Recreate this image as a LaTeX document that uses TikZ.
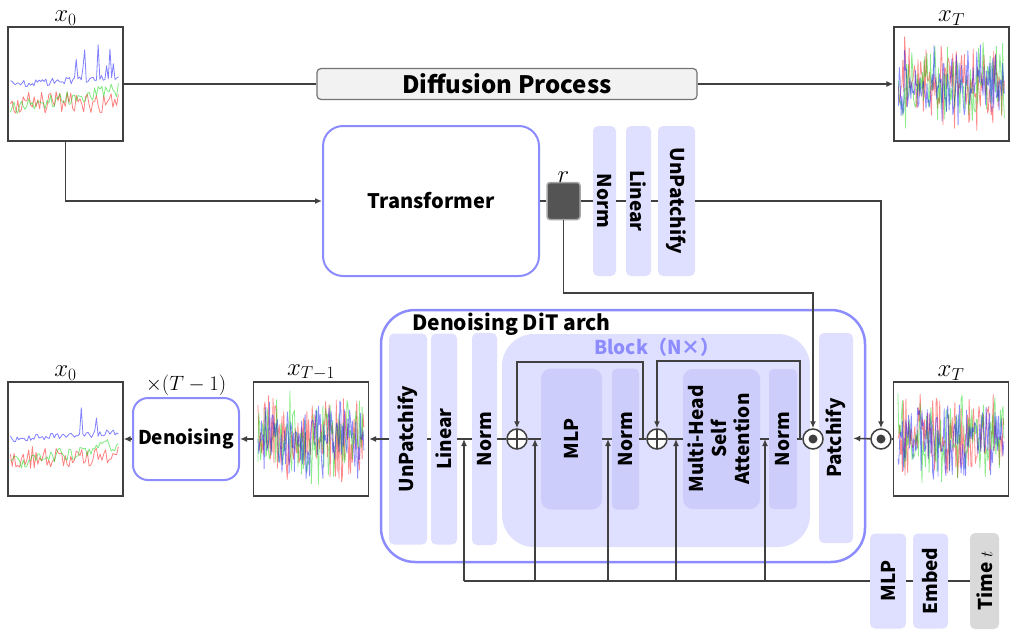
\documentclass[tikz,border=0pt]{standalone}
\usepackage{fontspec}
\setmainfont{Noto Sans CJK JP}
\usepackage{tikz}
\usetikzlibrary{positioning,arrows.meta}

\definecolor{frameblue}{RGB}{140,140,255}
\definecolor{lav}{RGB}{223,223,255}
\definecolor{lavdeep}{RGB}{205,205,252}
\definecolor{wiregray}{RGB}{64,64,64}
\definecolor{sigred}{RGB}{255,0,0}
\definecolor{siggreen}{RGB}{0,210,0}
\definecolor{sigblue}{RGB}{0,0,255}

% clean and noisy signals inside a plot box
\newcommand{\drawclean}[1]{%
  \begin{scope}
    \clip (#1.north west) rectangle (#1.south east);
    \begin{scope}[shift={(#1.north west)}, line width=0.8pt, opacity=0.5, line join=round]
      \draw[sigred] plot[domain=3:111, samples=60] (\x, {76+11*rand});
      \draw[siggreen] plot[domain=3:111, samples=60] (\x, {82-0.17*\x+7*rand});
      \draw[sigblue] plot[domain=3:111, samples=65] (\x, {58-0.06*\x+3.5*rand-(\x>68)*120*max(0,rand-0.72)});
    \end{scope}
  \end{scope}}
\newcommand{\drawnoise}[1]{%
  \begin{scope}
    \clip (#1.north west) rectangle (#1.south east);
    \begin{scope}[shift={(#1.north west)}, line width=0.8pt, opacity=0.45, line join=round]
      \draw[sigred] plot[domain=5:111, samples=120] (\x, {57+25*(rand+rand)});
      \draw[siggreen] plot[domain=5:111, samples=120] (\x, {57+25*(rand+rand)});
      \draw[sigblue] plot[domain=5:111, samples=120] (\x, {57+22*(rand+rand)});
    \end{scope}
  \end{scope}}

\begin{document}
\begin{tikzpicture}[x=1pt, y=-1pt, >={Latex[length=7pt,width=6pt]},
  wire/.style = {draw=wiregray, line width=1.6pt},
  tsbox/.style = {draw=black!75, line width=1.2pt, inner sep=0pt, minimum width=115pt, minimum height=114pt},
  stage/.style = {draw=frameblue, line width=2pt, fill=white, rounded corners=20pt, font=\bfseries\fontsize{20}{24}\selectfont},
  bar/.style = {fill=lav, rounded corners=5pt, inner sep=0pt, font=\bfseries\fontsize{19}{23}\selectfont},
  deepbar/.style = {bar, fill=lavdeep},
  opnode/.style = {circle, draw=wiregray, line width=1.5pt, fill=white, minimum size=20pt, inner sep=0pt},
  addop/.style = {opnode, path picture={\draw[wiregray, line width=1.3pt] (path picture bounding box.north) -- (path picture bounding box.south) (path picture bounding box.west) -- (path picture bounding box.east);}},
  mulop/.style = {opnode, path picture={\fill[wiregray] (path picture bounding box.center) circle (4.5pt);}},
  mathlbl/.style = {font=\fontsize{27}{30}\selectfont, inner sep=1pt}]
  \useasboundingbox (0,0) rectangle (1018,632);

  % top row: diffusion
  \node[tsbox] (x0top) at (65.5,84) {};
  \node[mathlbl] (x0toplbl) [above=0pt of x0top] {$x_0$};
  \node[draw=black!55, fill=black!5, line width=1.2pt, rounded corners=4pt, inner sep=0pt, minimum width=380pt, minimum height=31pt, font=\bfseries\fontsize{24}{28}\selectfont] (diffusion) at (507,84) {Diffusion Process};
  \node[tsbox] (xTtop) at (951.5,84) {};
  \node[mathlbl] (xTtoplbl) [above=0pt of xTtop] {$x_T$};

  % transformer and head
  \node[stage, minimum width=216pt, minimum height=150pt] (transformer) at (431,201) {Transformer};
  \node[fill=black!67, draw=black!35, line width=1.5pt, rounded corners=3pt, minimum width=33pt, minimum height=37pt, inner sep=0pt] (rsq) at (563.5,201) {};
  \node[mathlbl] (rlbl) [above=-2pt of rsq] {$r$};
  \node[bar, minimum width=23pt, minimum height=150pt] (normTop) at (604.5,201) {\rotatebox{-90}{Norm}};
  \node[bar, minimum width=25pt, minimum height=150pt] (linTop) at (638.5,201) {\rotatebox{-90}{Linear}};
  \node[bar, minimum width=37pt, minimum height=150pt] (unpTop) at (676.5,201) {\rotatebox{-90}{UnPatchify}};
  \coordinate (rbend) at (563.5,293);

  % denoising DiT
  \node[draw=frameblue, line width=2.5pt, rounded corners=34pt, minimum width=484pt, minimum height=252pt] (ditarch) at (623,436) {};
  \node[anchor=west, inner sep=0pt, font=\bfseries\fontsize{21}{25}\selectfont] (ditlbl) at (412,324) {Denoising DiT arch};
  \node[fill=lav, rounded corners=32pt, minimum width=308pt, minimum height=213pt] (blockN) at (656,440.5) {};
  \node[text=frameblue, font=\bfseries\fontsize{19}{23}\selectfont] (blocklbl) at (657,347) {Block（N×）};
  \node[bar, minimum width=38pt, minimum height=211pt] (unpDit) at (408,439) {\rotatebox{90}{UnPatchify}};
  \node[bar, minimum width=26pt, minimum height=211pt] (linDit) at (444,439) {\rotatebox{90}{Linear}};
  \node[bar, minimum width=25pt, minimum height=212pt] (normDit) at (484.5,439) {\rotatebox{90}{Norm}};
  \node[deepbar, rounded corners=10pt, minimum width=61pt, minimum height=141pt] (mlpDit) at (571.5,439) {\rotatebox{90}{MLP}};
  \node[deepbar, minimum width=27pt, minimum height=141pt] (normB1) at (625.5,439) {\rotatebox{90}{Norm}};
  \node[deepbar, rounded corners=10pt, minimum width=77pt, minimum height=140pt] (mhsa) at (721.5,439) {\rotatebox{90}{\begin{tabular}{@{}c@{}}Multi-Head\\Self\\Attention\end{tabular}}};
  \node[deepbar, minimum width=28pt, minimum height=140pt] (normB2) at (783,439) {\rotatebox{90}{Norm}};
  \node[bar, minimum width=34pt, minimum height=210pt] (patchify) at (836,438) {\rotatebox{90}{Patchify}};
  \node[addop] (oplusA) at (517,439) {};
  \node[addop] (oplusB) at (657,439) {};
  \node[mulop] (odotA) at (813,439) {};
  \node[mulop] (odotB) at (881,439) {};
  \coordinate (resA) at (643,439);
  \coordinate (resAtop) at (643,362);
  \coordinate (resB) at (800,439);
  \coordinate (resBtop) at (800,361);

  % noisy input and outputs
  \node[tsbox] (xTbot) at (951,439) {};
  \node[mathlbl] (xTbotlbl) [above=0pt of xTbot] {$x_T$};
  \node[tsbox] (xTm1) at (311,439) {};
  \node[mathlbl] (xTm1lbl) [above=0pt of xTm1] {$x_{T-1}$};
  \node[stage, rounded corners=15pt, minimum width=106pt, minimum height=82pt, font=\bfseries\fontsize{19}{23}\selectfont] (denoise) at (186,439) {Denoising};
  \node[font=\fontsize{20}{24}\selectfont, inner sep=1pt] (repeatlbl) [above=0pt of denoise] {$\times(T-1)$};
  \node[tsbox] (x0bot) at (65.5,439) {};
  \node[mathlbl] (x0botlbl) [above=0pt of x0bot] {$x_0$};

  % time embedding
  \node[bar, minimum width=36pt, minimum height=95pt] (mlpT) at (888,581) {\rotatebox{90}{MLP}};
  \node[bar, minimum width=35pt, minimum height=95pt] (embed) at (930.5,581) {\rotatebox{90}{Embed}};
  \node[bar, fill=black!15, minimum width=29pt, minimum height=96pt] (timet) at (984.5,581) {\rotatebox{90}{Time $t$}};
  \coordinate (tap1) at (464,581);
  \coordinate (tap2) at (535,581);
  \coordinate (tap3) at (608,581);
  \coordinate (tap4) at (676,581);
  \coordinate (tap5) at (765,581);

  \drawclean{x0top}
  \drawnoise{xTtop}
  \drawnoise{xTbot}
  \drawnoise{xTm1}
  \drawclean{x0bot}

  \draw[wire] (x0top) -- (diffusion);
  \draw[wire,->] (diffusion) -- (xTtop);
  \draw[wire,->] (x0top) |- (transformer);
  \draw[wire] (transformer) -- (rsq);
  \draw[wire] (rsq) -- (normTop);
  \draw[wire] (normTop) -- (linTop);
  \draw[wire] (linTop) -- (unpTop);
  \draw[wire,->] (unpTop) -| (odotB);
  \draw[wire,->] (rsq) -- (rbend) -| (odotA);

  \draw[wire] (xTbot) -- (odotB);
  \draw[wire,->] (odotB) -- (patchify);
  \draw[wire] (odotA) -- (normB2);
  \draw[wire] (normB2) -- (mhsa);
  \draw[wire] (mhsa) -- (oplusB);
  \draw[wire] (oplusB) -- (normB1);
  \draw[wire] (normB1) -- (mlpDit);
  \draw[wire] (mlpDit) -- (oplusA);
  \draw[wire] (oplusA) -- (normDit);
  \draw[wire] (normDit) -- (linDit);
  \draw[wire] (linDit) -- (unpDit);
  \draw[wire,->] (unpDit) -- (xTm1);
  \draw[wire,->] (resB) -- (resBtop) -| (oplusB);
  \draw[wire,->] (resA) -- (resAtop) -| (oplusA);

  \draw[wire,->] (xTm1) -- (denoise);
  \draw[wire,->] (denoise) -- (x0bot);

  \draw[wire] (timet) -- (embed);
  \draw[wire] (embed) -- (mlpT);
  \draw[wire] (mlpT) -- (tap1);
  \draw[wire,->] (tap1) -- (tap1 |- oplusA);
  \draw[wire,->] (tap2) -- (tap2 |- oplusA);
  \draw[wire,->] (tap3) -- (tap3 |- oplusA);
  \draw[wire,->] (tap4) -- (tap4 |- oplusA);
  \draw[wire,->] (tap5) -- (tap5 |- oplusA);
\end{tikzpicture}
\end{document}
